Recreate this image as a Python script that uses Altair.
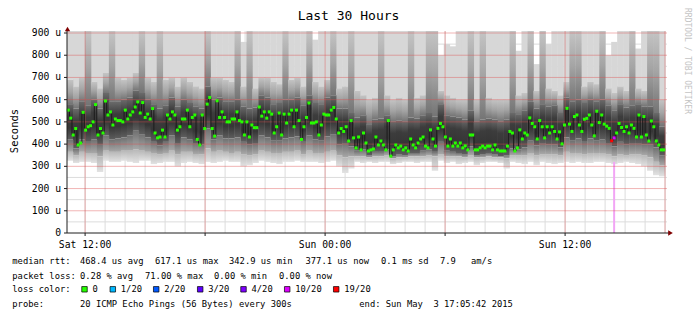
import altair as alt
import pandas as pd

# ---------------- data ----------------
TITLE = "Last 30 Hours"
T_SPAN = 30.0          # hours shown
T_DATA = 29.9          # hours covered by data (last update a little before the end)

# median RTT (microseconds), one value per ~7.5 min
median_rtt = [
    553, 517, 441, 470, 396, 405, 543, 463, 478, 483,
    500, 578, 441, 470, 450, 594, 531, 545, 486, 513,
    506, 506, 500, 553, 513, 531, 545, 567, 590, 540,
    587, 520, 535, 513, 560, 450, 428, 432, 463, 432,
    531, 513, 545, 531, 463, 478, 513, 513, 553, 478,
    520, 531, 421, 396, 531, 470, 580, 610, 470, 436,
    595, 520, 545, 520, 500, 500, 513, 513, 545, 506,
    500, 441, 500, 432, 486, 474, 474, 567, 526, 545,
    517, 545, 535, 450, 478, 540, 441, 535, 495, 535,
    553, 478, 553, 506, 421, 478, 520, 585, 495, 495,
    500, 441, 486, 535, 531, 531, 553, 565, 513, 450,
    470, 457, 478, 414,
    506, 428, 383, 432, 374, 450, 405, 369, 374, 378,
    432, 396, 414, 396, 374, 506, 346, 374, 396, 383,
    391, 374, 383, 369, 423, 396, 383, 405, 423, 432,
    391, 383, 464, 423, 391, 471, 493, 478, 432, 391,
    423, 391, 405, 391, 405, 383, 392, 374, 441, 441,
    374, 374, 383, 391, 383, 391, 391, 374, 396, 374,
    369, 369, 369, 391, 457, 450, 369, 383, 464, 423,
    450, 441, 518, 493, 478, 423, 506, 478, 428, 478,
    450, 478, 457, 423, 455, 401, 486, 561, 490, 457,
    524, 531, 486, 457, 512, 516, 531, 486, 437, 548,
    497, 531, 490, 481, 471, 415, 428, 450, 493, 475,
    457, 478, 450, 486, 471, 432, 531, 432, 524, 441,
    414, 504, 478, 414, 396, 374, 374,
]
loss_point_index = [219, 220]
loss_point_class = ["19/20", "10/20"]
loss_bar_index = [220]
loss_bar_top = [320]

# smoke: 100 time slices, nested bands (microseconds)
smoke_hi1 = [
    950, 950, 950, 950, 950, 950, 950, 950, 950, 950,
    950, 950, 950, 950, 950, 950, 950, 950, 950, 950,
    950, 950, 950, 950, 950, 950, 950, 950, 950, 860,
    950, 950, 950, 950, 950, 950, 950, 950, 950, 950,
    950, 870, 950, 950, 950, 950, 950, 950, 950, 950,
    950, 950, 950, 950, 950, 950, 950, 950, 950, 950,
    950, 950, 800, 850, 840, 950, 950, 950, 950, 950,
    950, 950, 950, 950, 950, 820, 950, 950, 760, 950,
    850, 950, 950, 950, 950, 950, 950, 950, 950, 950,
    800, 860, 950, 950, 950, 830, 950, 950, 950, 950,
]
smoke_hi2 = [
    690, 660, 700, 950, 680, 650, 720, 950, 700, 690,
    700, 720, 950, 700, 680, 950, 690, 700, 660, 700,
    680, 660, 650, 950, 700, 700, 690, 680, 950, 660,
    950, 650, 700, 700, 680, 670, 950, 690, 700, 660,
    950, 680, 660, 690, 950, 650, 660, 950, 640, 620,
    600, 610, 950, 620, 600, 610, 600, 950, 610, 620,
    950, 950, 640, 620, 610, 600, 600, 950, 600, 950,
    610, 600, 600, 600, 950, 620, 630, 950, 640, 950,
    650, 640, 620, 680, 950, 950, 660, 680, 670, 950,
    650, 630, 660, 640, 950, 650, 640, 950, 950, 600,
]
smoke_hi3 = [
    580, 560, 590, 575, 600, 560, 630, 590, 590, 600,
    610, 640, 630, 600, 580, 560, 575, 610, 570, 600,
    585, 570, 560, 660, 600, 610, 590, 590, 600, 570,
    560, 565, 620, 610, 580, 585, 600, 600, 610, 575,
    620, 585, 580, 610, 620, 560, 560, 540, 520, 530,
    490, 510, 515, 530, 500, 505, 500, 520, 515, 530,
    540, 525, 580, 530, 525, 520, 510, 550, 500, 510,
    515, 510, 500, 510, 540, 535, 550, 590, 560, 580,
    570, 575, 540, 610, 590, 600, 585, 600, 590, 600,
    575, 550, 580, 565, 575, 580, 570, 570, 540, 480,
]
smoke_lo3 = [
    420, 380, 420, 410, 420, 400, 440, 420, 425, 430,
    440, 460, 445, 430, 410, 395, 410, 440, 405, 430,
    420, 405, 400, 470, 420, 440, 425, 425, 430, 410,
    400, 405, 440, 430, 415, 415, 425, 430, 435, 410,
    440, 420, 415, 435, 445, 400, 405, 390, 370, 375,
    350, 365, 365, 375, 345, 355, 350, 360, 360, 370,
    375, 365, 410, 370, 365, 360, 355, 390, 350, 355,
    360, 355, 345, 350, 380, 375, 385, 415, 395, 405,
    400, 400, 385, 430, 415, 425, 410, 425, 415, 420,
    405, 390, 410, 400, 405, 405, 400, 400, 385, 350,
]
smoke_lo2 = [
    365, 350, 365, 360, 360, 345, 370, 365, 365, 370,
    370, 375, 370, 365, 360, 355, 360, 370, 355, 365,
    365, 355, 355, 380, 365, 370, 365, 360, 365, 355,
    350, 355, 370, 365, 360, 360, 365, 365, 370, 355,
    370, 360, 360, 365, 370, 350, 340, 345, 345, 345,
    340, 345, 345, 350, 335, 340, 340, 345, 345, 345,
    350, 345, 355, 345, 345, 345, 340, 350, 340, 340,
    345, 340, 340, 335, 350, 350, 350, 360, 350, 355,
    355, 355, 350, 365, 360, 360, 355, 360, 360, 360,
    355, 345, 355, 350, 355, 355, 350, 340, 320, 305,
]
smoke_lo1 = [
    325, 315, 320, 320, 315, 275, 325, 320, 320, 325,
    320, 315, 325, 325, 310, 315, 320, 320, 300, 315,
    320, 315, 310, 320, 315, 320, 325, 320, 320, 300,
    305, 315, 325, 320, 315, 310, 320, 320, 325, 320,
    320, 320, 315, 320, 325, 300, 270, 290, 320, 315,
    320, 315, 320, 320, 310, 315, 320, 320, 315, 320,
    320, 280, 325, 315, 320, 310, 315, 320, 305, 315,
    320, 320, 315, 290, 320, 315, 310, 320, 305, 320,
    315, 310, 315, 320, 315, 320, 315, 315, 320, 320,
    315, 310, 315, 320, 315, 310, 300, 280, 260, 255,
]

# axis ticks / labels
x_tick_hours = [0.905, 6.905, 12.905, 18.905, 24.905]
x_tick_labels = ["Sat 12:00", "", "Sun 00:00", "", "Sun 12:00"]
x_minor_hours = [0.905 + k for k in range(30)]
last_update_hour = 29.9
y_major = [100, 200, 300, 400, 500, 600, 700, 800, 900]
y_minor = [50, 150, 250, 350, 450, 550, 650, 750, 850]
y_tick_values = [0, 100, 200, 300, 400, 500, 600, 700, 800, 900]
y_tick_labels = ["0", "100 u", "200 u", "300 u", "400 u", "500 u", "600 u", "700 u", "800 u", "900 u"]

legend_classes = ["0", "1/20", "2/20", "3/20", "4/20", "10/20", "19/20"]
legend_colors = ["#26ff00", "#00b8ff", "#0059ff", "#5e00ff", "#7e00ff", "#dd00ff", "#ff0000"]

stats_row1 = ["median rtt:", "468.4 us avg", "617.1 us max", "342.9 us min",
              "377.1 us now", "0.1 ms sd", "7.9", "am/s"]
stats_row2 = ["packet loss:", "0.28 % avg", "71.00 % max", "0.00 % min", "0.00 % now"]
probe_row = ["probe:", "20 ICMP Echo Pings (56 Bytes) every 300s", "end: Sun May  3 17:05:42 2015"]

# ---------------- layout (pixels) ----------------
PL, PT = 67, 31
W, H = 600, 202
row1_x = [12.3, 80, 155, 229, 305.5, 381, 440, 471]
row2_x = [12.3, 80, 145, 214, 279]
row4_x = [12.3, 80, 359.3]
legend_box_x = [84.5, 112.8, 156.2, 200.2, 243.5, 287.2, 336.2]
row_y = [261, 275.7, 289.3, 304]

MONO = "DejaVu Sans Mono"
AXIS_COLOR = "#1f1f1f"
xs = alt.Scale(domain=[0, T_SPAN], nice=False, zero=False)
ys = alt.Scale(domain=[0, 909], nice=False, clamp=True)
NOAX = dict(axis=None)

# ---------------- frames ----------------
N = len(median_rtt)
med_color = ["#26ff00"] * N
for i, c in zip(loss_point_index, loss_point_class):
    med_color[i] = legend_colors[legend_classes.index(c)]
med_df = pd.DataFrame({
    "t": [(i + 0.5) * T_DATA / N for i in range(N)],
    "v": median_rtt,
    "c": med_color,
})
NS = len(smoke_hi1)
OVERLAP = 0.02  # hours, hides anti-alias seams between slices
smoke_t0 = [i * T_DATA / NS for i in range(NS)]
smoke_t1 = [(i + 1) * T_DATA / NS + OVERLAP for i in range(NS)]


def grad(*cols):
    n = len(cols) - 1
    return alt.LinearGradient(
        gradient="linear",
        stops=[alt.GradientStop(offset=k / n, color=c) for k, c in enumerate(cols)],
        x1=0, x2=0, y1=0, y2=1)


def smoke_layer(lo, hi, fill):
    df = pd.DataFrame({"t0": smoke_t0, "t1": smoke_t1, "lo": lo, "hi": hi})
    return alt.Chart(df).mark_rect(color=fill, strokeWidth=0).encode(
        x=alt.X("t0:Q", scale=xs, **NOAX), x2="t1:Q",
        y=alt.Y("lo:Q", scale=ys, **NOAX), y2="hi:Q",
    )


minor_vx = alt.Chart(pd.DataFrame({"t": x_minor_hours})).mark_rule(color="#dcdcdc", strokeWidth=1).encode(
    x=alt.X("t:Q", scale=xs, **NOAX))
minor_hy = alt.Chart(pd.DataFrame({"v": y_minor})).mark_rule(color="#dcdcdc", strokeWidth=1).encode(
    y=alt.Y("v:Q", scale=ys, **NOAX))
major_vx = alt.Chart(pd.DataFrame({"t": x_tick_hours + [last_update_hour]})).mark_rule(
    color="#de4f4f", opacity=0.42, strokeWidth=1).encode(x=alt.X("t:Q", scale=xs, **NOAX))
major_hy = alt.Chart(pd.DataFrame({"v": y_major})).mark_rule(
    color="#de4f4f", opacity=0.42, strokeWidth=1).encode(y=alt.Y("v:Q", scale=ys, **NOAX))

loss_df = pd.DataFrame({
    "t": [med_df["t"][i] for i in loss_bar_index],
    "lo": [0] * len(loss_bar_index),
    "hi": loss_bar_top,
})
loss_bar = alt.Chart(loss_df).mark_rule(color="#f2a5f5", strokeWidth=2).encode(
    x=alt.X("t:Q", scale=xs, **NOAX),
    y=alt.Y("lo:Q", scale=ys, **NOAX), y2="hi:Q")

med_line = alt.Chart(med_df).mark_line(interpolate="step", color="#1c1c1c", strokeWidth=1).encode(
    x=alt.X("t:Q", scale=xs, **NOAX), y=alt.Y("v:Q", scale=ys, **NOAX))
med_pts = alt.Chart(med_df).mark_square(size=9, opacity=1, strokeWidth=0).encode(
    x=alt.X("t:Q", scale=xs, **NOAX), y=alt.Y("v:Q", scale=ys, **NOAX),
    color=alt.Color("c:N", scale=None, legend=None))

# ---- axes drawn from tick arrays through the scales ----
xtick_df = pd.DataFrame({"t": x_tick_hours, "lab": x_tick_labels})
ytick_df = pd.DataFrame({"v": y_tick_values, "lab": y_tick_labels})
x_domain = alt.Chart(pd.DataFrame({"a": [0.0], "v": [0]})).mark_rule(color=AXIS_COLOR, strokeWidth=1).encode(
    x=alt.X("a:Q", scale=xs, **NOAX), x2=alt.value(W + 2), y=alt.Y("v:Q", scale=ys, **NOAX))
y_domain = alt.Chart(pd.DataFrame({"v": [0], "top": [909]})).mark_rule(color=AXIS_COLOR, strokeWidth=1).encode(
    x=alt.value(0), y=alt.Y("v:Q", scale=ys, **NOAX), y2=alt.value(-1))
x_ticks = alt.Chart(xtick_df).mark_rule(color=AXIS_COLOR, strokeWidth=1).encode(
    x=alt.X("t:Q", scale=xs, **NOAX), y=alt.value(H), y2=alt.value(H + 3))
y_ticks = alt.Chart(ytick_df).mark_rule(color=AXIS_COLOR, strokeWidth=1).encode(
    y=alt.Y("v:Q", scale=ys, **NOAX), x=alt.value(-3), x2=alt.value(0))
x_labels = alt.Chart(xtick_df).mark_text(font=MONO, fontSize=9.7, color="black", baseline="middle",
                                         align="center").encode(
    x=alt.X("t:Q", scale=xs, **NOAX), y=alt.value(H + 12), text="lab:N")
y_labels = alt.Chart(ytick_df).mark_text(font=MONO, fontSize=9.7, color="black", baseline="middle",
                                         align="right").encode(
    y=alt.Y("v:Q", scale=ys, **NOAX), x=alt.value(-6), text="lab:N")

one = alt.Data(values=[{}])


def txt(s, x, y, size=8.8, align="left", angle=0, color="black", baseline="middle"):
    s = s.replace("  ", " \u00a0")
    return alt.Chart(one).mark_text(
        text=s, font=MONO, fontSize=size, align=align, baseline=baseline,
        angle=angle, color=color).encode(x=alt.value(x - PL), y=alt.value(y - PT))


texts = [txt(TITLE, 348.5, 16, size=13, align="center"),
         txt("Seconds", 15, 131, size=10.5, align="center", angle=270),
         txt("RRDTOOL / TOBI OETIKER", 687, 61, size=8, align="center", angle=90, color="#c4c4c4")]
for s, x in zip(stats_row1, row1_x):
    texts.append(txt(s, x, row_y[0]))
for s, x in zip(stats_row2, row2_x):
    texts.append(txt(s, x, row_y[1]))
texts.append(txt("loss color:", 12.3, row_y[2]))
for lab, col, x in zip(legend_classes, legend_colors, legend_box_x):
    texts.append(alt.Chart(one).mark_square(size=30, color=col, opacity=1, stroke="black",
                                            strokeWidth=0.7).encode(
        x=alt.value(x - PL), y=alt.value(row_y[2] - PT)))
    texts.append(txt(lab, x + 8, row_y[2]))
for s, x in zip(probe_row, row4_x):
    texts.append(txt(s, x, row_y[3]))

arrows = [
    alt.Chart(one).mark_point(shape="triangle-right", size=28, filled=True, color="#800000", opacity=1).encode(
        x=alt.value(670.5 - PL), y=alt.value(233 - PT)),
    alt.Chart(one).mark_point(shape="triangle-up", size=28, filled=True, color="#800000", opacity=1).encode(
        x=alt.value(67.5 - PL), y=alt.value(29 - PT)),
]

chart = alt.layer(
    minor_vx, minor_hy,
    smoke_layer(smoke_hi2, smoke_hi1, "#d7d7d7"),
    smoke_layer(smoke_hi3, smoke_hi2, grad("#c4c4c4", "#a4a4a4", "#747474")),
    smoke_layer(smoke_lo3, smoke_hi3, grad("#6a6a6a", "#3c3c3c", "#363636", "#5e5e5e")),
    smoke_layer(smoke_lo2, smoke_lo3, grad("#707070", "#a8a8a8")),
    smoke_layer(smoke_lo1, smoke_lo2, grad("#b8b8b8", "#e2e2e2")),
    loss_bar, major_vx, major_hy, med_line, med_pts,
    x_domain, y_domain, x_ticks, y_ticks, x_labels, y_labels,
    *texts, *arrows,
).properties(
    width=W, height=H,
    autosize=alt.AutoSizeParams(type="none"),
    padding={"left": PL, "top": PT, "right": 697 - PL - W, "bottom": 321 - PT - H},
    background="white",
).configure_view(stroke=None)

chart.save("out.html", embed_options={"renderer": "svg", "actions": False})
